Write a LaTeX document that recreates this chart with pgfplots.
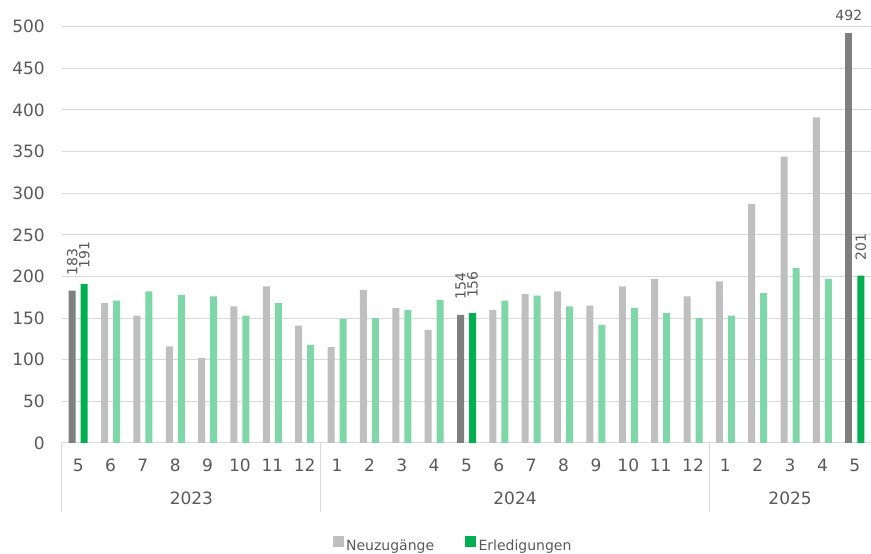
\documentclass[border=0pt]{standalone}
\usepackage{graphicx}
\usepackage{pgfplots}
\pgfplotsset{compat=1.18}
\usepackage{fontspec}
\setmainfont{DejaVu Sans}
\definecolor{greyN}{RGB}{191,191,191}
\definecolor{greyH}{RGB}{127,127,127}
\definecolor{greenN}{RGB}{127,215,167}
\definecolor{greenH}{RGB}{0,176,80}
\definecolor{txt}{RGB}{89,89,89}
\definecolor{gridc}{RGB}{217,217,217}
\begin{document}
\begin{tikzpicture}
\useasboundingbox (-62pt,-111pt) rectangle (809pt,443pt);
\begin{axis}[
  scale only axis,
  width=809pt, height=416.3pt,
  xmin=-0.5, xmax=24.5, ymin=0, ymax=500,
  clip=false,
  /pgf/number format/assume math mode=true,
  axis lines*=left,
  x axis line style={draw=gridc, line width=1pt},
  y axis line style={draw=none},
  ymajorgrids, grid style={draw=gridc, line width=1pt},
  major tick length=0pt,
  ytick={0,50,...,500},
  xtick={0,...,24},
  xticklabels={5,6,7,8,9,10,11,12,1,2,3,4,5,6,7,8,9,10,11,12,1,2,3,4,5},
  ticklabel style={font=\fontsize{17}{20}\selectfont, text=txt},
  yticklabel style={anchor=east, inner sep=0pt, xshift=-17pt},
  xticklabel style={anchor=base, inner sep=0pt, yshift=-28.5pt},
  legend image code/.code={\fill[#1] (0pt,-0.5pt) rectangle (10pt,9.5pt);},
  legend style={at={(0.484,-0.245)}, anchor=center, draw=none, fill=none,
    legend columns=-1, font=\fontsize{14}{16}\selectfont, text=txt,
    /tikz/every even column/.append style={column sep=28pt},
    inner sep=0pt, nodes={inner xsep=3pt}},
]
\addlegendimage{greyN}\addlegendentry{Neuzugänge}
\addlegendimage{greenH}\addlegendentry{Erledigungen}
% Neuzugaenge normal
\addplot[ybar, bar width=7pt, bar shift=-6pt, fill=greyN, draw=none, forget plot] coordinates {
(1,168)(2,153)(3,116)(4,102)(5,164)(6,188)(7,141)(8,115)(9,184)(10,162)(11,136)
(13,160)(14,179)(15,182)(16,165)(17,188)(18,197)(19,176)(20,194)(21,287)(22,344)(23,391)};
% Erledigungen normal
\addplot[ybar, bar width=7pt, bar shift=6pt, fill=greenN, draw=none, forget plot] coordinates {
(1,171)(2,182)(3,178)(4,176)(5,153)(6,168)(7,118)(8,149)(9,150)(10,160)(11,172)
(13,171)(14,177)(15,164)(16,142)(17,162)(18,156)(19,150)(20,153)(21,180)(22,210)(23,197)};
% highlighted Neuzugaenge (rotated labels)
\addplot[ybar, bar width=7pt, bar shift=-6pt, fill=greyH, draw=none, forget plot,
  nodes near coords={\rotatebox{90}{\pgfmathprintnumber{\pgfplotspointmeta}}},
  every node near coord/.append style={anchor=south, xshift=-6pt,
  inner ysep=15pt, inner xsep=0pt, font=\fontsize{14}{16}\selectfont, text=txt}]
  coordinates {(0,183)(12,154)};
% highlighted Neuzugaenge 492 (horizontal label)
\addplot[ybar, bar width=7pt, bar shift=-6pt, fill=greyH, draw=none, forget plot,
  nodes near coords, every node near coord/.append style={anchor=base, xshift=-6pt,
  inner sep=0pt, yshift=13pt, font=\fontsize{14}{16}\selectfont, text=txt}]
  coordinates {(24,492)};
% highlighted Erledigungen
\addplot[ybar, bar width=7pt, bar shift=6pt, fill=greenH, draw=none, forget plot,
  nodes near coords={\rotatebox{90}{\pgfmathprintnumber{\pgfplotspointmeta}}},
  every node near coord/.append style={anchor=south, xshift=6pt,
  inner ysep=15pt, inner xsep=0pt, font=\fontsize{14}{16}\selectfont, text=txt}]
  coordinates {(0,191)(12,156)(24,201)};
% group separators
\draw[gridc, line width=1pt] (axis cs:-0.5,0) -- ([yshift=-69pt]axis cs:-0.5,0);
\draw[gridc, line width=1pt] (axis cs:7.5,0) -- ([yshift=-69pt]axis cs:7.5,0);
\draw[gridc, line width=1pt] (axis cs:19.5,0) -- ([yshift=-69pt]axis cs:19.5,0);
% year labels
\node[anchor=base, inner sep=0pt, text=txt, font=\fontsize{17}{20}\selectfont] at ([yshift=-61.5pt]axis cs:3.5,0) {2023};
\node[anchor=base, inner sep=0pt, text=txt, font=\fontsize{17}{20}\selectfont] at ([yshift=-61.5pt]axis cs:13.5,0) {2024};
\node[anchor=base, inner sep=0pt, text=txt, font=\fontsize{17}{20}\selectfont] at ([yshift=-61.5pt]axis cs:22,0) {2025};
\end{axis}
\end{tikzpicture}
\end{document}
